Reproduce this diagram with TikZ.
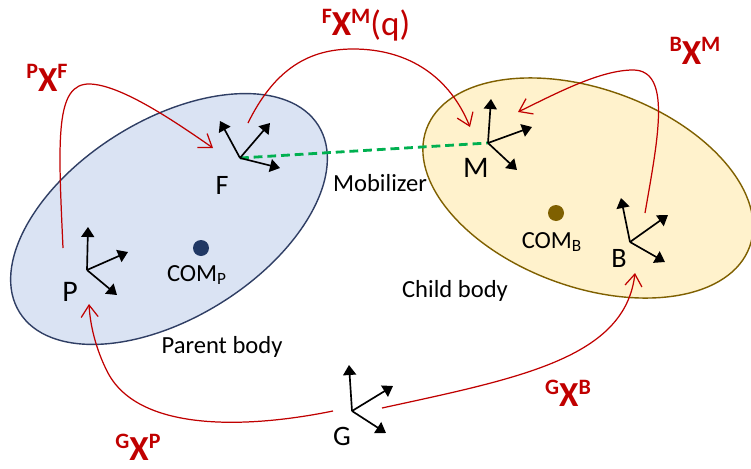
\documentclass[tikz,border=0pt]{standalone}
\usepackage{fontspec}
\setmainfont{Carlito}
\usepackage{xcolor}
\definecolor{pbfill}{RGB}{218,227,243}
\definecolor{pbline}{RGB}{47,62,100}
\definecolor{pbdot}{RGB}{32,56,100}
\definecolor{cbfill}{RGB}{255,242,204}
\definecolor{cbline}{RGB}{127,96,0}
\definecolor{cbdot}{RGB}{127,96,0}
\definecolor{xred}{RGB}{192,0,0}
\definecolor{mobgreen}{RGB}{0,176,80}
\usetikzlibrary{arrows.meta, positioning, shapes.geometric}

\newcommand{\xform}[2]{\raisebox{7pt}{\fontsize{12.5}{14}\selectfont\bfseries #1}{\fontsize{20}{22}\selectfont\bfseries X}\raisebox{7pt}{\fontsize{12.5}{14}\selectfont\bfseries #2}}

\tikzset{
  axis/.style={-{Triangle[length=2mm,width=2.6mm]}, line width=0.95pt, black},
  xarrow/.style={-{Straight Barb[length=2.4mm,width=3.4mm]}, xred, line width=0.7pt},
  framelbl/.style={font=\fontsize{17}{20}\selectfont, inner sep=0pt},
  bodylbl/.style={font=\fontsize{14}{16}\selectfont, inner sep=0pt},
  xlbl/.style={text=xred, inner sep=0pt},
  comdot/.style={circle, inner sep=0pt, minimum size=0.32cm}
}

\begin{document}
\begin{tikzpicture}[x=0.02cm, y=0.02cm]
  \clip (0,0) rectangle (751,468);

  % Bodies
  \node[ellipse, draw=pbline, fill=pbfill, line width=0.8pt, inner sep=0pt,
        minimum width=7.05cm, minimum height=3.95cm, rotate=32] (parent) at (169,249) {};
  \node[ellipse, draw=cbline, fill=cbfill, line width=0.8pt, inner sep=0pt,
        minimum width=6.88cm, minimum height=3.96cm, rotate=-20] (child) at (588,280) {};

  % Centres of mass
  \node[comdot, fill=pbdot] (comP) at (201,220) {};
  \node[bodylbl] (comPlbl) at (197,193) {COM\textsubscript{P}};
  \node[comdot, fill=cbdot] (comB) at (556,255) {};
  \node[bodylbl] (comBlbl) at (552,226) {COM\textsubscript{B}};

  % Frame origins
  \coordinate (P) at (87,198);
  \coordinate (F) at (240,310);
  \coordinate (M) at (488,325);
  \coordinate (B) at (630,226);
  \coordinate (G) at (352,57);

  % Mobilizer
  \draw[mobgreen, line width=1.6pt, dash pattern=on 5pt off 2.8pt] (F) -- (M);

  % Frames
  \draw[axis] (P) -- ++(1,43);
  \draw[axis] (P) -- ++(41,18);
  \draw[axis] (P) -- ++(30,-25);
  \draw[axis] (F) -- ++(-20,37);
  \draw[axis] (F) -- ++(30,35);
  \draw[axis] (F) -- ++(40,-10);
  \draw[axis] (M) -- ++(3,44);
  \draw[axis] (M) -- ++(44,16);
  \draw[axis] (M) -- ++(29,-27);
  \draw[axis] (B) -- ++(-9,44);
  \draw[axis] (B) -- ++(38,27);
  \draw[axis] (B) -- ++(35,-20);
  \draw[axis] (G) -- ++(-3,46);
  \draw[axis] (G) -- ++(41,25);
  \draw[axis] (G) -- ++(34,-22);

  % Frame labels
  \node[framelbl] (Plbl) at (70,176) {P};
  \node[framelbl, font=\fontsize{16}{18}\selectfont] (Flbl) at (222,283) {F};
  \node[framelbl] (Mlbl) at (476,300) {M};
  \node[framelbl, font=\fontsize{16}{18}\selectfont] (Blbl) at (619,210) {B};
  \node[framelbl, font=\fontsize{16}{18}\selectfont] (Glbl) at (342,32) {G};

  % Body labels
  \node[bodylbl] (moblbl) at (380,285) {Mobilizer};
  \node[bodylbl] (parentlbl) at (222,121) {Parent body};
  \node[bodylbl] (childlbl) at (455,177) {Child body};

  % Transform arrows
  \coordinate (pf-a) at (63,220);
  \coordinate (pf-b) at (213,320);
  \coordinate (fm-a) at (248,345);
  \coordinate (fm-b) at (470,341);
  \coordinate (bm-a) at (645,255);
  \coordinate (bm-b) at (518,356);
  \coordinate (gp-a) at (333,57);
  \coordinate (gp-b) at (89,164);
  \coordinate (gb-a) at (382,60);
  \coordinate (gb-b) at (635,195);
  \draw[xarrow] (pf-a) .. controls (58,330) and (55,385) .. (90,384)
                       .. controls (120,383) and (170,350) .. (pf-b);
  \draw[xarrow] (fm-a) .. controls (275,400) and (310,419) .. (353,419)
                       .. controls (410,419) and (450,390) .. (fm-b);
  \draw[xarrow] (bm-a) .. controls (658,330) and (672,398) .. (633,398)
                       .. controls (600,398) and (555,374) .. (bm-b);
  \draw[xarrow] (gp-a) .. controls (250,40) and (140,35) .. (108,95)
                       .. controls (95,120) and (90,145) .. (gp-b);
  \draw[xarrow] (gb-a) .. controls (520,90) and (625,110) .. (gb-b);

  % Transform labels
  \node[xlbl] (pxf) at (47,390) {\xform{P}{F}};
  \node[xlbl] (fxm) at (366,443) {\xform{F}{M}{\fontsize{20}{22}\selectfont(q)}};
  \node[xlbl] (bxm) at (695,417) {\xform{B}{M}};
  \node[xlbl] (gxb) at (568,75) {\xform{G}{B}};
  \node[xlbl] (gxp) at (138,21) {\xform{G}{P}};
\end{tikzpicture}
\end{document}
